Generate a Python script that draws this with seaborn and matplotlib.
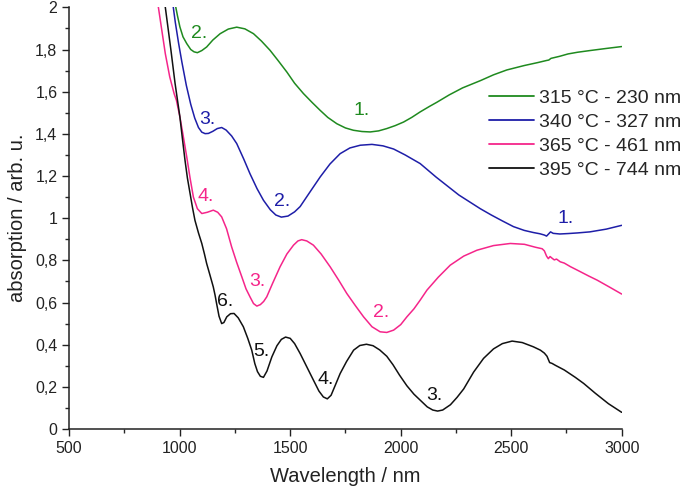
import numpy as np
import pandas as pd
import matplotlib
matplotlib.use("Agg")
import matplotlib.pyplot as plt
import seaborn as sns
from matplotlib.ticker import MultipleLocator, FuncFormatter

# ---- data ----
green_x = [975, 990, 1001, 1015, 1032, 1050, 1065, 1080, 1100, 1122, 1150, 1183, 1220, 1258, 1295,
           1334, 1370, 1409, 1445, 1485, 1520, 1560, 1600, 1635, 1670, 1711, 1750, 1786, 1825, 1862,
           1900, 1937, 1975, 2013, 2050, 2088, 2130, 2164, 2220, 2280, 2362, 2420, 2480, 2559, 2620,
           2660, 2670, 2680, 2720, 2757, 2800, 2856, 2930, 3000]
green_y = [2.04, 1.96, 1.907, 1.86, 1.828, 1.80, 1.789, 1.785, 1.795, 1.812, 1.845, 1.875, 1.897, 1.906, 1.898,
           1.875, 1.84, 1.796, 1.748, 1.693, 1.64, 1.591, 1.548, 1.512, 1.478, 1.448, 1.428, 1.417, 1.411, 1.409,
           1.414, 1.425, 1.439, 1.456, 1.478, 1.504, 1.53, 1.55, 1.585, 1.618, 1.653, 1.68, 1.703, 1.724, 1.738,
           1.748, 1.75, 1.758, 1.768, 1.779, 1.787, 1.795, 1.805, 1.814]

blue_x = [966, 980, 995, 1010, 1030, 1050, 1068, 1085, 1100, 1115, 1130, 1150, 1170, 1190, 1210,
          1235, 1258, 1290, 1318, 1350, 1379, 1410, 1435, 1460, 1490, 1520, 1545, 1590, 1636, 1680,
          1726, 1770, 1817, 1870, 1920, 1968, 2020, 2088, 2160, 2263, 2360, 2410, 2460, 2510, 2559,
          2600, 2630, 2650, 2660, 2670, 2678, 2690, 2720, 2757, 2800, 2856, 2930, 3000]
blue_y = [2.04, 1.93, 1.83, 1.74, 1.63, 1.54, 1.475, 1.43, 1.408, 1.401, 1.402, 1.412, 1.425, 1.43, 1.418,
          1.39, 1.354, 1.28, 1.211, 1.14, 1.085, 1.04, 1.015, 1.005, 1.01, 1.03, 1.055, 1.125, 1.196, 1.257,
          1.306, 1.333, 1.346, 1.35, 1.343, 1.328, 1.30, 1.259, 1.195, 1.11, 1.045, 1.015, 0.987, 0.96, 0.942,
          0.932, 0.926, 0.92, 0.915, 0.926, 0.935, 0.928, 0.925, 0.927, 0.93, 0.935, 0.948, 0.966]

pink_x = [898, 915, 935, 955, 975, 985, 1001, 1016, 1032, 1047, 1062, 1080, 1100, 1125, 1152,
          1172, 1190, 1212, 1235, 1258, 1281, 1300, 1318, 1334, 1349, 1365, 1380, 1394, 1420, 1454,
          1485, 1515, 1535, 1552, 1575, 1605, 1640, 1681, 1720, 1756, 1795, 1832, 1870, 1907, 1937,
          1968, 2000, 2028, 2060, 2088, 2119, 2170, 2224, 2285, 2345, 2420, 2496, 2560, 2610, 2640,
          2650, 2660, 2668, 2676, 2685, 2695, 2705, 2722, 2740, 2768, 2800, 2850, 2889, 2945, 3000]
pink_y = [2.04, 1.92, 1.78, 1.67, 1.59, 1.56, 1.48, 1.39, 1.29, 1.19, 1.10, 1.045, 1.022, 1.028, 1.038,
          1.028, 1.006, 0.95, 0.864, 0.79, 0.722, 0.665, 0.627, 0.595, 0.583, 0.59, 0.605, 0.627, 0.69, 0.769,
          0.83, 0.872, 0.892, 0.898, 0.892, 0.872, 0.83, 0.769, 0.705, 0.643, 0.585, 0.532, 0.485, 0.461, 0.458,
          0.469, 0.495, 0.532, 0.57, 0.611, 0.659, 0.72, 0.777, 0.82, 0.848, 0.87, 0.88, 0.876, 0.862, 0.855,
          0.845, 0.82, 0.808, 0.818, 0.81, 0.802, 0.806, 0.793, 0.787, 0.77, 0.753, 0.726, 0.706, 0.673, 0.64]

black_x = [930, 945, 960, 979, 990, 1001, 1012, 1024, 1035, 1047, 1058, 1069, 1085, 1100, 1112,
           1122, 1137, 1152, 1160, 1167, 1178, 1190, 1200, 1213, 1230, 1246, 1265, 1288, 1308, 1326,
           1340, 1352, 1365, 1379, 1395, 1417, 1440, 1460, 1479, 1500, 1520, 1545, 1575, 1605, 1630,
           1650, 1668, 1685, 1705, 1726, 1755, 1787, 1815, 1845, 1875, 1905, 1937, 1965, 1995, 2028,
           2060, 2090, 2120, 2145, 2167, 2190, 2225, 2255, 2285, 2330, 2375, 2420, 2460, 2504, 2550,
           2600, 2632, 2650, 2662, 2674, 2685, 2700, 2740, 2790, 2828, 2880, 2940, 3000]
black_y = [2.04, 1.92, 1.80, 1.64, 1.56, 1.48, 1.38, 1.275, 1.19, 1.117, 1.05, 0.99, 0.93, 0.88, 0.83,
           0.785, 0.73, 0.674, 0.635, 0.595, 0.535, 0.50, 0.505, 0.532, 0.547, 0.548, 0.527, 0.485, 0.43, 0.374,
           0.31, 0.272, 0.25, 0.245, 0.275, 0.342, 0.395, 0.425, 0.436, 0.43, 0.405, 0.358, 0.295, 0.232, 0.18,
           0.152, 0.143, 0.16, 0.21, 0.263, 0.32, 0.374, 0.396, 0.402, 0.395, 0.375, 0.345, 0.305, 0.255, 0.205,
           0.165, 0.135, 0.105, 0.09, 0.085, 0.09, 0.115, 0.15, 0.19, 0.27, 0.335, 0.38, 0.405, 0.417, 0.41,
           0.39, 0.374, 0.36, 0.345, 0.315, 0.311, 0.302, 0.28, 0.245, 0.216, 0.17, 0.12, 0.079]

series_labels = ["315 °C - 230 nm", "340 °C - 327 nm", "365 °C - 461 nm", "395 °C - 744 nm"]
series_colors = ["#1f8a1f", "#1e1ea8", "#f5258a", "#111111"]

# minima annotations: (text, x, y, series index)
ann_text = ["2.", "1.", "3.", "2.", "1.", "4.", "3.", "2.", "6.", "5.", "4.", "3."]
ann_x = [1087, 1824, 1126, 1462, 2747, 1117, 1350, 1913, 1205, 1370, 1660, 2154]
ann_y = [1.877, 1.51, 1.47, 1.077, 0.998, 1.105, 0.698, 0.552, 0.603, 0.366, 0.237, 0.158]
ann_series = [0, 0, 1, 1, 1, 2, 2, 2, 3, 3, 3, 3]

# ---- plotting ----
sns.set_theme(style="ticks")
plt.rcParams['font.family'] = ['Liberation Sans', 'DejaVu Sans']

fig = plt.figure(figsize=(6.85, 4.9), dpi=100)
ax = fig.add_axes([0.101, 0.1245, 0.8066, 0.8605])

all_x = [green_x, blue_x, pink_x, black_x]
all_y = [green_y, blue_y, pink_y, black_y]
frames = []
for lab, xs, ys in zip(series_labels, all_x, all_y):
    frames.append(pd.DataFrame({"wl": xs, "abs": ys, "series": lab}))
df = pd.concat(frames, ignore_index=True)

sns.lineplot(data=df, x="wl", y="abs", hue="series", palette=dict(zip(series_labels, series_colors)),
             linewidth=1.1, ax=ax, sort=False, estimator=None, legend=True)
for line in ax.get_lines():
    line.set_solid_joinstyle("round")

for t, x, y, s in zip(ann_text, ann_x, ann_y, ann_series):
    ax.text(x, y, t, color=series_colors[s], fontsize=14, ha="center", va="center")

ax.set_xlim(500, 3000)
ax.set_ylim(0, 2)
ax.xaxis.set_major_locator(MultipleLocator(500))
ax.xaxis.set_minor_locator(MultipleLocator(250))
ax.yaxis.set_major_locator(MultipleLocator(0.2))
ax.yaxis.set_minor_locator(MultipleLocator(0.1))
ax.yaxis.set_major_formatter(FuncFormatter(lambda v, p: f"{v:.1f}".rstrip("0").rstrip(".").replace(".", ",")))
ax.tick_params(axis="both", which="major", length=5, width=1, direction="out", labelsize=11.5, colors="#222222")
ax.tick_params(axis="both", which="minor", length=3, width=1, direction="out")
for side in ["top", "right"]:
    ax.spines[side].set_visible(False)
for side in ["left", "bottom"]:
    ax.spines[side].set_linewidth(1.1)
    ax.spines[side].set_color("#222222")

ax.set_xlabel("Wavelength / nm", fontsize=14.5, labelpad=8, color="#222222")
ax.set_ylabel("absorption / arb. u.", fontsize=14.5, labelpad=6, color="#222222")

handles, labels = ax.get_legend_handles_labels()
leg = ax.legend(handles, labels, loc="upper left", bbox_to_anchor=(0.714, 0.818),
                bbox_transform=fig.transFigure, frameon=False, fontsize=14,
                handlelength=2.3, handletextpad=0.28, labelspacing=0.33,
                borderpad=0, borderaxespad=0)
for line in leg.get_lines():
    line.set_linewidth(1.3)

fig.savefig("out.png", dpi=100)
